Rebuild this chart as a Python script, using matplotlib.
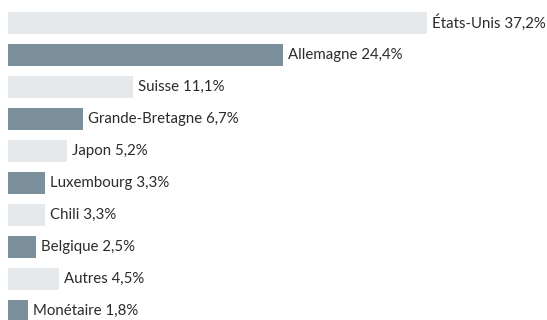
import matplotlib
matplotlib.use("Agg")
import matplotlib.pyplot as plt

countries = ["États-Unis", "Allemagne", "Suisse", "Grande-Bretagne", "Japon",
             "Luxembourg", "Chili", "Belgique", "Autres", "Monétaire"]
shares = [37.2, 24.4, 11.1, 6.7, 5.2, 3.3, 3.3, 2.5, 4.5, 1.8]
labels = ["37,2%", "24,4%", "11,1%", "6,7%", "5,2%",
          "3,3%", "3,3%", "2,5%", "4,5%", "1,8%"]

light = "#e6e9eb"
dark = "#7b909b"

plt.rcParams["font.family"] = ["Lato", "DejaVu Sans"]

fig = plt.figure(figsize=(5.47, 3.2), dpi=100)
ax = fig.add_axes([0, 0, 1, 1])

colors = [light if i % 2 == 0 else dark for i in range(len(shares))]
pos = list(range(len(shares)))
ax.barh(pos, shares, height=0.69, color=colors, edgecolor="none")

for y, v, name, lab in zip(pos, shares, countries, labels):
    ax.annotate(name + " " + lab, (v, y), xytext=(5, 0), textcoords="offset pixels",
                va="center", ha="left", fontsize=10.8, color="#2b2b2b")

# 11.26 px per percent, bars start 8px from the left edge
ax.set_xlim(-8 / 11.26, (547 - 8) / 11.26)
ax.set_ylim((320 - 23) / 32, -23 / 32)
ax.axis("off")

fig.savefig("out.png", dpi=100)
